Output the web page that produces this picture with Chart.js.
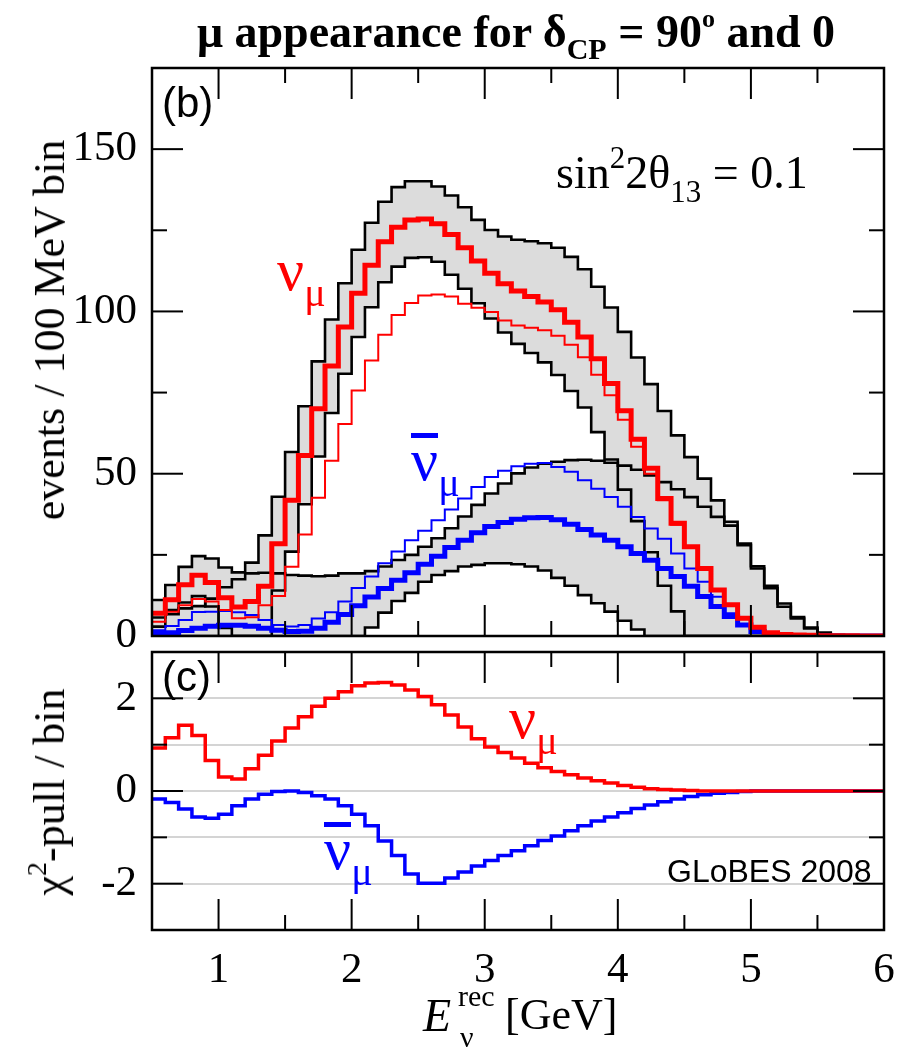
<!DOCTYPE html>
<html>
<head>
<meta charset="utf-8">
<script src="https://cdn.jsdelivr.net/npm/chart.js@4.4.1/dist/chart.umd.min.js"></script>
<style>
  html, body { margin: 0; padding: 0; background: #fff; }
  #page { position: relative; width: 914px; height: 1055px; overflow: hidden; font-family: "Liberation Serif", "Times New Roman", serif; }
  canvas { position: absolute; left: 0; }
  #rates { top: 0; }
  #pulls { top: 640px; }
  .lbl { position: absolute; white-space: nowrap; line-height: 1; z-index: 5; }
  .rot { position: absolute; white-space: nowrap; line-height: 1; z-index: 5; transform: translate(-50%, -50%) rotate(-90deg); }
  .sans { font-family: "Liberation Sans", Arial, sans-serif; }
  .red { color: #ff0000; }
  .blue { color: #0000ff; }
  .bar { display: inline-block; border-top: 5px solid #0000ff; line-height: 0.62; padding-top: 4px; }
  sub, sup { line-height: 0; }
</style>
</head>
<body>
<div id="page">
  <canvas id="rates" width="914" height="700"></canvas>
  <canvas id="pulls" width="914" height="415"></canvas>

  <div class="lbl" style="left:150px; width:732px; top:9px; text-align:center; font-weight:bold; font-size:46px;">μ appearance for δ<sub style="font-size:30px; vertical-align:-12px;">CP</sub> = 90<sup style="font-size:26px; vertical-align:20px;">o</sup> and 0</div>

  <div class="rot" style="left:50px; top:330px; font-size:44px;">events / 100 MeV bin</div>
  <div class="rot" style="left:50px; top:792px; font-size:44px;">χ<sup style="font-size:28px; vertical-align:18px;">2</sup>-pull / bin</div>

  <div class="lbl sans" style="left:162px; top:82px; font-size:42px;">(b)</div>
  <div class="lbl" style="left:556px; top:150px; font-size:46px;">sin<sup style="font-size:31px; vertical-align:20px;">2</sup>2θ<sub style="font-size:31px; vertical-align:-14px;">13</sub> = 0.1</div>
  <div class="lbl red" style="left:277px; top:240px; font-size:60px;">ν<sub style="font-size:40px; vertical-align:-16px;">μ</sub></div>
  <div class="lbl blue" style="left:411px; top:430px; font-size:60px;"><span class="bar">ν</span><sub style="font-size:40px; vertical-align:-16px;">μ</sub></div>

  <div class="lbl sans" style="left:162px; top:656px; font-size:42px;">(c)</div>
  <div class="lbl red" style="left:509px; top:688px; font-size:60px;">ν<sub style="font-size:40px; vertical-align:-16px;">μ</sub></div>
  <div class="lbl blue" style="left:324px; top:819px; font-size:60px;"><span class="bar">ν</span><sub style="font-size:40px; vertical-align:-16px;">μ</sub></div>
  <div class="lbl sans" style="left:667px; top:855px; font-size:32px;">GLoBES 2008</div>

  <div class="lbl" style="left:423px; top:993px; font-size:46px; font-style:italic;">E</div>
  <div class="lbl" style="left:458px; top:981px; font-size:30px;">rec</div>
  <div class="lbl" style="left:460px; top:1022px; font-size:30px;">ν</div>
  <div class="lbl" style="left:505px; top:993px; font-size:44px;">[GeV]</div>
</div>

<script>
// bin edges of the 100 MeV reconstructed-energy bins (GeV)
const binEdges = [0.5, 0.6, 0.7, 0.8, 0.9, 1.0, 1.1, 1.2, 1.3, 1.4, 1.5, 1.6, 1.7, 1.8, 1.9,
  2.0, 2.1, 2.2, 2.3, 2.4, 2.5, 2.6, 2.7, 2.8, 2.9, 3.0, 3.1, 3.2, 3.3, 3.4, 3.5, 3.6, 3.7, 3.8,
  3.9, 4.0, 4.1, 4.2, 4.3, 4.4, 4.5, 4.6, 4.7, 4.8, 4.9, 5.0, 5.1, 5.2, 5.3, 5.4, 5.5, 5.6, 5.7,
  5.8, 5.9, 6.0]

// panel (b): events per bin
const nuRate90 = [7.0, 11.2, 15.8, 18.7, 16.5, 11.8, 8.9, 10.6, 15.3, 28.4,
  41.8, 55.6, 70.0, 83.2, 95.2, 105.6, 114.2, 121.5, 125.9, 128.2,
  128.5, 127.0, 123.7, 119.6, 115.5, 111.8, 108.5, 106.3, 104.6, 102.9,
  100.5, 96.7, 92.1, 85.4, 77.8, 69.4, 60.6, 51.7, 42.4, 34.7,
  27.5, 20.8, 14.2, 9.6, 5.5, 2.7, 1.0, 0.5, 0.3, 0.2,
  0.1, 0.1, 0.05, 0, 0]
const nuRate0 = [4.4, 7.5, 9.5, 11.4, 10.6, 8.0, 5.5, 5.8, 9.5, 12.3,
  21.3, 31.3, 42.6, 54.0, 65.3, 75.6, 84.9, 92.8, 98.9, 102.6,
  104.9, 105.2, 104.6, 102.4, 101.1, 99.8, 97.2, 95.7, 95.0, 94.2,
  92.5, 89.7, 85.9, 80.5, 74.2, 66.6, 58.3, 50.0, 41.8, 34.3,
  27.2, 20.5, 14.0, 9.4, 5.4, 2.6, 1.0, 0.5, 0.3, 0.2,
  0.1, 0.1, 0.05, 0, 0]
const nuBandHi = [11.1, 15.7, 21.3, 24.6, 23.9, 21.1, 19.6, 22.6, 31.0, 42.9,
  56.7, 70.8, 84.6, 97.5, 108.7, 119.0, 127.3, 133.8, 138.3, 140.1,
  140.1, 138.5, 135.7, 132.1, 128.2, 125.1, 123.1, 122.1, 121.6, 121.0,
  119.6, 116.8, 113.0, 107.6, 101.2, 93.7, 85.8, 77.6, 69.3, 61.8,
  55.1, 48.5, 41.8, 35.2, 28.0, 20.8, 14.7, 9.0, 5.4, 2.3,
  1.0, 0.3, 0.1, 0, 0]
const nuBandLo = [2.9, 6.7, 10.3, 12.3, 9.1, 2.5, 0, 0, 0, 14.0,
  26.0, 40.6, 55.3, 68.7, 80.8, 92.1, 101.3, 109.0, 113.8, 116.5,
  116.7, 115.3, 111.3, 107.0, 102.5, 97.8, 93.5, 90.0, 87.2, 84.3,
  80.4, 75.5, 70.4, 62.8, 54.4, 45.1, 35.4, 25.8, 15.5, 7.6,
  0, 0, 0, 0, 0, 0, 0, 0, 0, 0,
  0, 0, 0, 0, 0]
const nubarRate90 = [0.8, 1.0, 1.7, 2.4, 3.0, 3.3, 3.3, 3.0, 2.4, 1.8,
  1.4, 1.5, 2.4, 4.2, 6.6, 9.3, 12.0, 14.6, 17.2, 19.5,
  22.1, 24.6, 27.3, 29.5, 31.8, 33.7, 35.0, 36.0, 36.4, 36.5,
  35.8, 34.4, 32.8, 31.1, 29.5, 27.5, 25.4, 23.3, 20.8, 18.3,
  15.3, 12.2, 9.1, 6.0, 3.4, 1.4, 0.4, 0.1, 0, 0,
  0, 0, 0, 0, 0]
const nubarRate0 = [1.8, 3.1, 4.9, 7.4, 7.5, 7.7, 7.3, 6.5, 4.9, 3.4,
  2.9, 3.4, 5.4, 7.3, 10.6, 14.8, 18.3, 22.4, 26.0, 29.5,
  32.4, 35.7, 39.0, 42.4, 45.9, 49.0, 50.9, 52.3, 53.1, 53.3,
  52.1, 50.6, 48.0, 45.4, 42.8, 39.8, 36.7, 33.1, 30.0, 25.4,
  20.8, 16.7, 12.1, 7.0, 3.6, 1.4, 0.4, 0.1, 0, 0,
  0, 0, 0, 0, 0]
const nubarBandHi = [5.7, 8.0, 8.5, 9.2, 11.5, 15.0, 17.5, 19.3, 19.5, 19.3,
  18.8, 18.6, 18.4, 18.6, 19.3, 19.3, 20.0, 21.4, 23.4, 25.0,
  27.5, 30.1, 33.2, 36.8, 40.4, 43.9, 47.0, 50.1, 51.9, 53.1,
  53.7, 54.2, 54.3, 54.0, 53.4, 52.5, 51.2, 49.5, 47.4, 45.2,
  42.8, 39.8, 36.7, 34.0, 28.5, 21.5, 15.5, 10.0, 5.8, 2.6,
  1.0, 0.3, 0.1, 0, 0]
const nubarBandLo = [0, 0, 0, 0, 0, 0, 0, 0, 0, 0,
  0, 0, 0, 0, 0, 0, 2.6, 7.2, 10.8, 13.3,
  16.7, 18.8, 20.0, 21.4, 21.9, 22.4, 22.4, 22.1, 21.4, 20.2,
  17.9, 15.5, 12.6, 10.1, 7.5, 4.7, 2.0, 0, 0, 0,
  0, 0, 0, 0, 0, 0, 0, 0, 0, 0,
  0, 0, 0, 0, 0]

// panel (c): chi^2 pull per bin
const nuPull = [0.93, 1.15, 1.42, 1.20, 0.66, 0.30, 0.26, 0.48, 0.77, 1.08,
  1.36, 1.60, 1.83, 2.00, 2.14, 2.27, 2.33, 2.34, 2.29, 2.18,
  2.04, 1.86, 1.64, 1.38, 1.13, 0.95, 0.83, 0.71, 0.60, 0.50,
  0.42, 0.35, 0.28, 0.22, 0.17, 0.12, 0.08, 0.05, 0.03, 0.02,
  0.01, 0, 0, 0, 0, 0, 0, 0, 0, 0,
  0, 0, 0, 0, 0]
const nubarPull = [-0.17, -0.25, -0.39, -0.56, -0.59, -0.50, -0.32, -0.17, -0.07, -0.01,
  0.0, -0.03, -0.10, -0.17, -0.32, -0.50, -0.75, -1.08, -1.39, -1.79,
  -1.99, -1.99, -1.88, -1.75, -1.62, -1.50, -1.39, -1.29, -1.18, -1.07,
  -0.97, -0.86, -0.75, -0.65, -0.56, -0.47, -0.38, -0.30, -0.23, -0.17,
  -0.12, -0.08, -0.05, -0.03, -0.01, 0, 0, 0, 0, 0,
  0, 0, 0, 0, 0]

// axis ticks
const energyTicks = [1, 2, 3, 4, 5, 6]
const energyMinorTicks = [1.5, 2.5, 3.5, 4.5, 5.5]
const rateTicks = [0, 50, 100, 150]
const rateMinorTicks = [25, 75, 125]
const pullTicks = [-2, -1, 0, 1, 2]
const pullMajorTicks = [-2, 0, 2]
const pullMinorTicks = [-1, 1]

const RED = "#ff0000"
const BLUE = "#0000ff"
const GRAY = "#dcdcdc"
const SERIF = "Liberation Serif"

// histogram points: each bin value held from its lower edge to its upper edge
function hist(values) {
  const pts = values.map((v, i) => ({ x: binEdges[i], y: v }))
  pts.push({ x: binEdges[values.length], y: values[values.length - 1] })
  return pts
}

function step(label, values, color, width, extra) {
  return Object.assign({
    label,
    data: hist(values),
    borderColor: color,
    borderWidth: width,
    stepped: "before",
    pointRadius: 0,
    fill: false,
    borderJoinStyle: "miter",
    borderCapStyle: "butt"
  }, extra || {})
}

// frame with inward ticks on all four sides
const framePlugin = {
  id: "frame",
  afterDatasetsDraw(chart, args, opts) {
    const { ctx, chartArea: a } = chart
    const x = chart.scales.x
    const y = chart.scales.y
    const seg = (x0, y0, x1, y1) => { ctx.beginPath(); ctx.moveTo(x0, y0); ctx.lineTo(x1, y1); ctx.stroke() }
    ctx.save()
    ctx.strokeStyle = "#000"
    ctx.lineWidth = 2
    const xt = opts.xMajor.map(v => [v, 31]).concat(opts.xMinor.map(v => [v, 15]))
    xt.forEach(([v, len]) => {
      const px = x.getPixelForValue(v)
      seg(px, a.bottom, px, a.bottom - len)
      seg(px, a.top, px, a.top + len)
    })
    const yt = opts.yMajor.map(v => [v, 31]).concat(opts.yMinor.map(v => [v, 15]))
    yt.forEach(([v, len]) => {
      const py = y.getPixelForValue(v)
      seg(a.left, py, a.left + len, py)
      seg(a.right, py, a.right - len, py)
    })
    ctx.lineWidth = 2.5
    ctx.strokeRect(a.left, a.top, a.right - a.left, a.bottom - a.top)
    ctx.restore()
  }
}

function leftAxisFit(s) {
  s.width = 152
  s.paddingTop = 0
  s.paddingBottom = 0
}

new Chart(document.getElementById("rates"), {
  type: "line",
  data: {
    datasets: [
      step("νμ, δCP = 90°", nuRate90, RED, 5),
      step("ν̄μ, δCP = 90°", nubarRate90, BLUE, 5),
      step("νμ, δCP = 0", nuRate0, RED, 2),
      step("ν̄μ, δCP = 0", nubarRate0, BLUE, 2),
      step("νμ band upper", nuBandHi, "#000", 2.6, { fill: "+1", backgroundColor: GRAY }),
      step("νμ band lower", nuBandLo, "#000", 2.6),
      step("ν̄μ band upper", nubarBandHi, "#000", 2.6, { fill: "+1", backgroundColor: GRAY }),
      step("ν̄μ band lower", nubarBandLo, "#000", 2.6)
    ]
  },
  options: {
    responsive: false,
    animation: false,
    devicePixelRatio: 1,
    layout: { padding: { top: 68, right: 30, bottom: 64, left: 0 } },
    scales: {
      x: { type: "linear", min: 0.5, max: 6, display: false },
      y: {
        min: 0,
        max: 175,
        afterBuildTicks: s => { s.ticks = rateTicks.map(v => ({ value: v })) },
        afterFit: leftAxisFit,
        grid: { display: false, drawTicks: false },
        border: { display: false },
        ticks: { color: "#000", padding: 15, font: { family: SERIF, size: 43 } }
      }
    },
    plugins: {
      legend: { display: false },
      tooltip: { enabled: false },
      filler: { propagate: false, drawTime: "beforeDatasetsDraw" },
      frame: { xMajor: energyTicks, xMinor: energyMinorTicks, yMajor: rateTicks, yMinor: rateMinorTicks }
    }
  },
  plugins: [framePlugin]
})

new Chart(document.getElementById("pulls"), {
  type: "line",
  data: {
    datasets: [
      step("νμ pull", nuPull, RED, 3.5),
      step("ν̄μ pull", nubarPull, BLUE, 3.5)
    ]
  },
  options: {
    responsive: false,
    animation: false,
    devicePixelRatio: 1,
    layout: { padding: { top: 12, right: 30, bottom: 0, left: 0 } },
    scales: {
      x: {
        type: "linear",
        min: 0.5,
        max: 6,
        afterBuildTicks: s => { s.ticks = energyTicks.map(v => ({ value: v })) },
        afterFit: s => { s.height = 125 },
        grid: { display: false, drawTicks: false },
        border: { display: false },
        ticks: { color: "#000", padding: 15, maxRotation: 0, font: { family: SERIF, size: 43 } }
      },
      y: {
        min: -3,
        max: 3,
        afterBuildTicks: s => { s.ticks = pullTicks.map(v => ({ value: v })) },
        afterFit: leftAxisFit,
        grid: { color: "#d4d4d4", lineWidth: 2, drawTicks: false },
        border: { display: false },
        ticks: {
          color: "#000",
          padding: 15,
          font: { family: SERIF, size: 43 },
          callback: v => (pullMajorTicks.includes(v) ? String(v) : "")
        }
      }
    },
    plugins: {
      legend: { display: false },
      tooltip: { enabled: false },
      frame: { xMajor: energyTicks, xMinor: energyMinorTicks, yMajor: pullMajorTicks, yMinor: pullMinorTicks }
    }
  },
  plugins: [framePlugin]
})
</script>
</body>
</html>
